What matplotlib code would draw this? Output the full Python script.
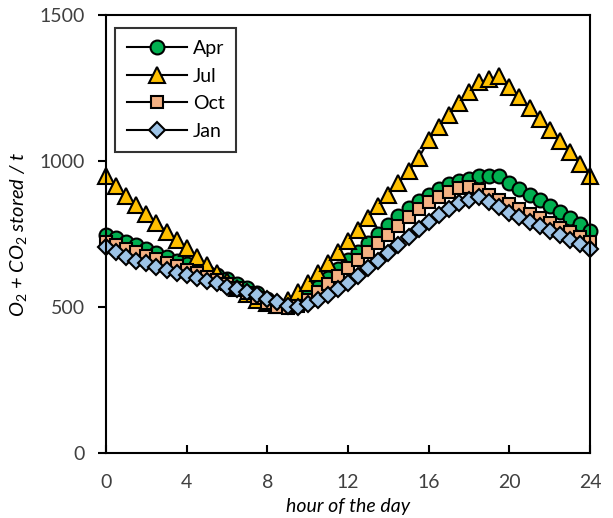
import numpy as np
import matplotlib
matplotlib.use("Agg")
import matplotlib.pyplot as plt

plt.rcParams['font.family'] = ['Lato', 'DejaVu Sans']
plt.rcParams['mathtext.fontset'] = 'custom'
plt.rcParams['mathtext.it'] = 'Lato:italic'
plt.rcParams['mathtext.rm'] = 'Lato'

# hour of the day, half-hour steps
hours = np.arange(0, 24.01, 0.5)

apr = [747, 735, 724, 712, 699, 686, 672, 659, 647, 634, 621, 608, 595, 580, 565, 548,
       528, 508, 502, 515, 540, 570, 600, 630, 660, 690, 720, 750, 780, 810, 838, 862,
       885, 905, 920, 932, 940, 948, 950, 948, 926, 905, 885, 865, 845, 825, 805, 783, 760]
jul = [948, 914, 880, 849, 818, 789, 758, 729, 702, 672, 644, 615, 590, 565, 543, 525,
       512, 508, 525, 551, 582, 615, 650, 688, 725, 765, 805, 845, 885, 925, 965, 1010,
       1072, 1116, 1158, 1199, 1236, 1270, 1280, 1291, 1255, 1220, 1182, 1145, 1105, 1068,
       1030, 990, 950]
oct_ = [724, 712, 700, 688, 676, 664, 652, 640, 628, 616, 604, 592, 578, 564, 548, 530,
        512, 500, 495, 505, 525, 550, 578, 605, 632, 660, 688, 718, 748, 778, 808, 835,
        858, 878, 895, 908, 910, 900, 884, 868, 852, 836, 820, 804, 788, 772, 756, 740, 724]
jan = [704, 688, 672, 659, 650, 638, 627, 617, 610, 598, 590, 581, 570, 560, 550, 540,
       528, 517, 505, 500, 510, 524, 541, 560, 583, 607, 632, 658, 684, 712, 740, 766,
       792, 815, 835, 855, 866, 876, 861, 843, 823, 809, 792, 777, 762, 747, 731, 716, 700]

series = [
    ("Apr", apr, "o", "#00B050", 10),
    ("Jul", jul, "^", "#FFC000", 11),
    ("Oct", oct_, "s", "#F4B183", 9),
    ("Jan", jan, "D", "#9DC3E6", 8),
]

fig = plt.figure(figsize=(6.13, 5.18), dpi=100)
ax = fig.add_axes([0.173, 0.1255, 0.7895, 0.8455])

for name, vals, mk, col, ms in series:
    ax.plot(hours, vals, color="black", lw=1.5, marker=mk, markersize=ms,
            markerfacecolor=col, markeredgecolor="black", markeredgewidth=1.5,
            label=name, clip_on=False)

ax.set_xlim(0, 24)
ax.set_ylim(0, 1500)
ax.set_xticks([0, 4, 8, 12, 16, 20, 24])
ax.set_yticks([0, 500, 1000, 1500])
ax.tick_params(axis="x", direction="in", length=6, width=1.5, labelsize=14, pad=15, labelcolor="#404040")
ax.tick_params(axis="y", direction="out", length=6, width=1.5, labelsize=14, pad=9, labelcolor="#404040")
for s in ax.spines.values():
    s.set_linewidth(1.5)

ax.set_xlabel("hour of the day", fontsize=14, style="italic", labelpad=5)
ax.set_ylabel(r"$\mathit{O_2}$ + $\mathit{CO_2}$ stored / t", fontsize=14.5, style="italic", labelpad=8)

# legend box in the upper left corner
leg = ax.legend(loc="upper left", bbox_to_anchor=(0.0186, 0.970), borderaxespad=0,
                fontsize=14, frameon=True, fancybox=False, edgecolor="black",
                handlelength=3.1, handletextpad=0.3, labelspacing=0.55, borderpad=0.6)
leg.get_frame().set_linewidth(1.5)

fig.savefig("out.png", dpi=100)
